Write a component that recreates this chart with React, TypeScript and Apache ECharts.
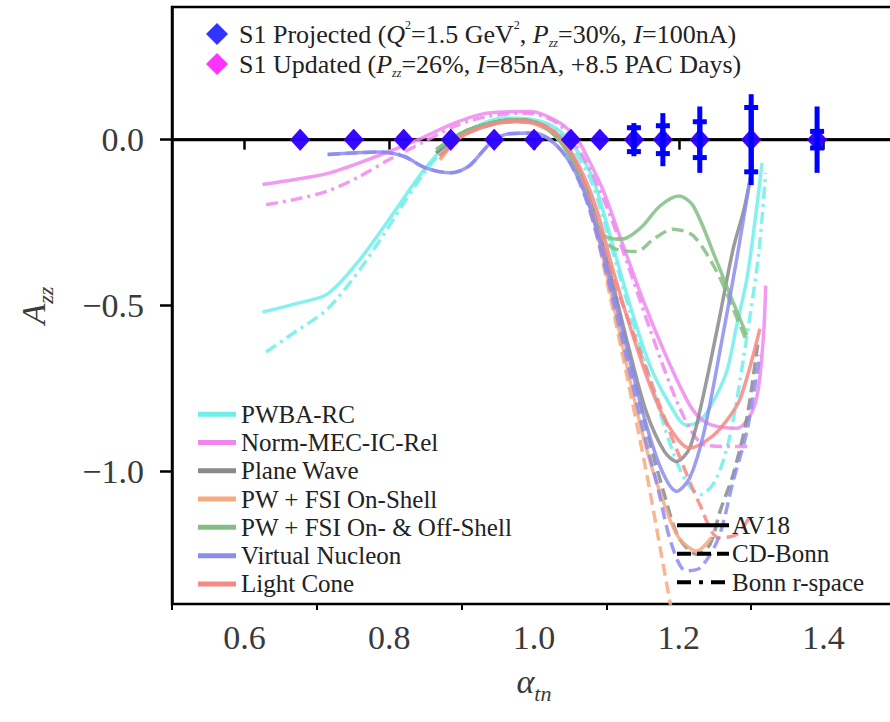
import React, { useEffect, useRef } from "react";
import * as echarts from "echarts";

const FONT = "'Liberation Serif', 'Times New Roman', serif";

// ---------- data ----------
const xTickLabels = [0.6, 0.8, 1.0, 1.2, 1.4];
const xMinorTicks = [0.5, 0.7, 0.9, 1.1, 1.3, 1.5];
const yTickLabels = [-1.0, -0.5, 0.0];
const zeroLineX = [0.5, 1.5];

const dataX = [0.677, 0.751, 0.82, 0.885, 0.945, 1.0, 1.051, 1.091, 1.138, 1.178, 1.229, 1.3, 1.391];
const projectedY = [0, 0, 0, 0, 0, 0, 0, 0, 0, 0, 0, 0, 0];
const updatedY = [0, 0, 0, 0, 0, 0, 0, 0, 0, 0, 0, 0, 0];
const projectedErr = [0, 0, 0, 0, 0, 0, 0, 0, 0.05, 0.08, 0.1, 0.137, 0.1];
const updatedErr = [0, 0, 0, 0, 0, 0, 0, 0, 0.036, 0.042, 0.054, 0.097, 0.025];

type P = [number, number];
// PWBA-RC
const pwbaAV18: P[] = [[0.625,-0.52],[0.67,-0.495],[0.715,-0.465],[0.76,-0.36],[0.8,-0.24],[0.845,-0.1],[0.88,-0.015],[0.92,0.04],[0.96,0.065],[1.0,0.06],[1.03,0.035],[1.055,-0.02],[1.08,-0.11],[1.1,-0.25],[1.13,-0.48],[1.16,-0.68],[1.188,-0.8],[1.21,-0.86],[1.228,-0.85],[1.245,-0.8],[1.266,-0.7],[1.28,-0.56],[1.294,-0.42],[1.305,-0.25],[1.315,-0.07]];
const pwbaBonnR: P[] = [[0.63,-0.64],[0.67,-0.58],[0.715,-0.51],[0.76,-0.39],[0.8,-0.26],[0.845,-0.11],[0.88,-0.02],[0.92,0.035],[0.96,0.06],[1.0,0.055],[1.03,0.03],[1.055,-0.03],[1.08,-0.13],[1.1,-0.27],[1.13,-0.5],[1.16,-0.72],[1.19,-0.93],[1.21,-1.03],[1.23,-1.07],[1.25,-1.03],[1.27,-0.9],[1.29,-0.65],[1.31,-0.35],[1.32,-0.1]];
// Norm-MEC-IC-Rel
const mecAV18: P[] = [[0.625,-0.135],[0.67,-0.12],[0.718,-0.1],[0.783,-0.05],[0.84,0.0],[0.89,0.05],[0.935,0.08],[0.995,0.085],[1.036,0.05],[1.06,0.0],[1.073,-0.05],[1.095,-0.15],[1.12,-0.3],[1.15,-0.48],[1.18,-0.64],[1.21,-0.78],[1.225,-0.83],[1.245,-0.86],[1.28,-0.87],[1.305,-0.8],[1.316,-0.62],[1.32,-0.44]];
const mecBonnR: P[] = [[0.63,-0.196],[0.67,-0.18],[0.715,-0.155],[0.76,-0.11],[0.8,-0.06],[0.845,-0.01],[0.89,0.04],[0.935,0.07],[0.99,0.08],[1.035,0.045],[1.07,-0.06],[1.1,-0.2],[1.13,-0.38],[1.16,-0.57],[1.19,-0.75],[1.215,-0.87],[1.235,-0.92],[1.27,-0.925],[1.3,-0.925]];
// Plane Wave
const pwAV18: P[] = [[0.865,-0.04],[0.9,0.02],[0.94,0.05],[0.975,0.06],[1.005,0.05],[1.03,0.015],[1.055,-0.06],[1.08,-0.2],[1.105,-0.4],[1.13,-0.62],[1.155,-0.82],[1.18,-0.94],[1.197,-0.97],[1.215,-0.93],[1.233,-0.78],[1.255,-0.55],[1.275,-0.33],[1.29,-0.21],[1.302,-0.08]];
const pwCDBonn: P[] = [[0.865,-0.04],[0.9,0.02],[0.94,0.05],[0.975,0.06],[1.005,0.05],[1.03,0.015],[1.055,-0.06],[1.08,-0.2],[1.105,-0.41],[1.13,-0.64],[1.155,-0.87],[1.18,-1.07],[1.2,-1.2],[1.225,-1.25],[1.243,-1.22],[1.257,-1.12],[1.275,-1.01],[1.294,-0.84],[1.31,-0.6]];
// PW + FSI On-Shell
const fsiOnAV18: P[] = [[0.87,-0.06],[0.9,0.01],[0.94,0.045],[0.975,0.055],[1.005,0.045],[1.03,0.01],[1.055,-0.07],[1.08,-0.22],[1.105,-0.45],[1.13,-0.7],[1.155,-0.93],[1.18,-1.1],[1.2,-1.2],[1.225,-1.24],[1.245,-1.2]];
const fsiOnCDBonn: P[] = [[0.87,-0.06],[0.9,0.01],[0.94,0.045],[0.975,0.055],[1.005,0.045],[1.03,0.01],[1.055,-0.07],[1.08,-0.23],[1.105,-0.47],[1.13,-0.73],[1.155,-1.0],[1.175,-1.24],[1.19,-1.42]];
// PW + FSI On- & Off-Shell
const fsiOffAV18: P[] = [[0.865,-0.03],[0.9,0.02],[0.94,0.05],[0.975,0.06],[1.005,0.05],[1.03,0.01],[1.055,-0.07],[1.075,-0.18],[1.091,-0.28],[1.115,-0.3],[1.128,-0.296],[1.15,-0.26],[1.174,-0.2],[1.2,-0.17],[1.22,-0.2],[1.253,-0.37],[1.275,-0.49],[1.294,-0.59]];
const fsiOffCDBonn: P[] = [[0.865,-0.03],[0.9,0.02],[0.94,0.05],[0.975,0.06],[1.005,0.05],[1.03,0.01],[1.055,-0.07],[1.075,-0.19],[1.105,-0.32],[1.142,-0.337],[1.165,-0.3],[1.192,-0.27],[1.22,-0.29],[1.253,-0.4],[1.275,-0.51],[1.294,-0.61]];
// Virtual Nucleon
const vnAV18: P[] = [[0.715,-0.045],[0.75,-0.04],[0.785,-0.037],[0.82,-0.05],[0.85,-0.085],[0.885,-0.1],[0.91,-0.08],[0.94,-0.01],[0.965,0.018],[1.0,0.02],[1.025,-0.005],[1.05,-0.07],[1.075,-0.19],[1.1,-0.38],[1.125,-0.6],[1.15,-0.82],[1.175,-0.99],[1.197,-1.06],[1.215,-1.02],[1.235,-0.88],[1.26,-0.6],[1.28,-0.36],[1.3,-0.1]];
const vnCDBonn: P[] = [[0.715,-0.045],[0.75,-0.04],[0.785,-0.037],[0.82,-0.05],[0.85,-0.085],[0.885,-0.1],[0.91,-0.08],[0.94,-0.01],[0.965,0.018],[1.0,0.02],[1.025,-0.005],[1.05,-0.07],[1.075,-0.2],[1.1,-0.4],[1.125,-0.63],[1.15,-0.87],[1.17,-1.04],[1.19,-1.22],[1.21,-1.3],[1.23,-1.29],[1.255,-1.2],[1.275,-1.03],[1.294,-0.88],[1.312,-0.65]];
// Light Cone
const lcAV18: P[] = [[0.87,-0.05],[0.9,0.01],[0.94,0.045],[0.975,0.055],[1.01,0.045],[1.035,0.01],[1.06,-0.07],[1.085,-0.2],[1.11,-0.4],[1.135,-0.58],[1.16,-0.74],[1.185,-0.86],[1.215,-0.93],[1.243,-0.9],[1.265,-0.85],[1.285,-0.78],[1.312,-0.57]];
const lcCDBonn: P[] = [[0.87,-0.05],[0.9,0.01],[0.94,0.045],[0.975,0.055],[1.01,0.045],[1.035,0.01],[1.06,-0.08],[1.085,-0.24],[1.11,-0.42],[1.14,-0.6],[1.17,-0.78],[1.2,-0.95],[1.229,-1.1],[1.255,-1.2],[1.28,-1.19],[1.3,-1.13]];

const modelNames = ["PWBA-RC", "Norm-MEC-IC-Rel", "Plane Wave", "PW + FSI On-Shell", "PW + FSI On- & Off-Shell", "Virtual Nucleon", "Light Cone"];
const modelColors = ["#70EEEA", "#EE88EE", "#8A8A8A", "#F5AA80", "#84BE84", "#8C8CEE", "#F28A86"];
const potentialNames = ["AV18", "CD-Bonn", "Bonn r-space"];

const DASH = [12, 6];
const DASHDOT = [12, 5, 3, 5];

export default function App() {
  const ref = useRef<HTMLDivElement>(null);
  useEffect(() => {
    if (!ref.current) return;
    const chart = echarts.init(ref.current, null, { renderer: "svg" });

    const curves: { name: string; model: number; data: P[]; dash: any }[] = [
      { name: "PWBA-RC", model: 0, data: pwbaAV18, dash: "solid" },
      { name: "PWBA-RC (Bonn r-space)", model: 0, data: pwbaBonnR, dash: DASHDOT },
      { name: "Norm-MEC-IC-Rel", model: 1, data: mecAV18, dash: "solid" },
      { name: "Norm-MEC-IC-Rel (Bonn r-space)", model: 1, data: mecBonnR, dash: DASHDOT },
      { name: "Plane Wave (CD-Bonn)", model: 2, data: pwCDBonn, dash: DASH },
      { name: "Plane Wave", model: 2, data: pwAV18, dash: "solid" },
      { name: "PW + FSI On-Shell (CD-Bonn)", model: 3, data: fsiOnCDBonn, dash: DASH },
      { name: "PW + FSI On-Shell", model: 3, data: fsiOnAV18, dash: "solid" },
      { name: "PW + FSI On- & Off-Shell", model: 4, data: fsiOffAV18, dash: "solid" },
      { name: "PW + FSI On- & Off-Shell (CD-Bonn)", model: 4, data: fsiOffCDBonn, dash: DASH },
      { name: "Light Cone (CD-Bonn)", model: 6, data: lcCDBonn, dash: DASH },
      { name: "Light Cone", model: 6, data: lcAV18, dash: "solid" },
      { name: "Virtual Nucleon (CD-Bonn)", model: 5, data: vnCDBonn, dash: DASH },
      { name: "Virtual Nucleon", model: 5, data: vnAV18, dash: "solid" },
    ];

    const curveSeries = curves.map((c) => ({
      name: c.name,
      type: "line",
      data: c.data,
      smooth: 0.3,
      symbol: "none",
      clip: true,
      z: 3,
      color: modelColors[c.model],
      lineStyle: { color: modelColors[c.model], width: 3.5, type: c.dash, opacity: 0.85 },
    }));

    const errRender = (cap: number) => (params: any, api: any) => {
      const x = api.value(0);
      const y = api.value(1);
      const e = api.value(2);
      const t = api.coord([x, y + e]);
      const b = api.coord([x, y - e]);
      const style = { stroke: "#0000FF", lineWidth: 5 };
      const children: any[] = [
        { type: "line", shape: { x1: t[0], y1: t[1], x2: b[0], y2: b[1] }, style },
      ];
      if (cap > 0) {
        children.push({ type: "line", shape: { x1: t[0] - cap, y1: t[1], x2: t[0] + cap, y2: t[1] }, style });
        children.push({ type: "line", shape: { x1: b[0] - cap, y1: b[1], x2: b[0] + cap, y2: b[1] }, style });
      }
      return { type: "group", children };
    };

    const richBase = {
      i: { fontFamily: FONT, fontSize: 26, fontStyle: "italic", color: "#222" },
      sup: { fontFamily: FONT, fontSize: 12, verticalAlign: "top", color: "#222" },
      sub: { fontFamily: FONT, fontSize: 12, fontStyle: "italic", verticalAlign: "bottom", color: "#222" },
    };

    const option: any = {
      animation: false,
      backgroundColor: "#ffffff",
      grid: {
        left: 172, right: 4, top: 7, bottom: 118,
        show: true, borderColor: "#000", borderWidth: 2.5, backgroundColor: "transparent",
      },
      xAxis: [
        {
          type: "value", min: 0.5, max: 1.5,
          splitLine: { show: false },
          axisLine: { show: true, lineStyle: { color: "#000", width: 2.5 } },
          axisTick: { show: true, customValues: xTickLabels, length: 10, lineStyle: { color: "#000", width: 2.5 } },
          axisLabel: {
            customValues: xTickLabels, margin: 16,
            fontFamily: FONT, fontSize: 34, color: "#3a3a3a",
            formatter: (v: number) => v.toFixed(1),
          },
          name: "{a|α}{s|tn}",
          nameLocation: "middle",
          nameGap: 60,
          nameTextStyle: {
            rich: {
              a: { fontFamily: FONT, fontSize: 34, fontStyle: "italic", color: "#3a3a3a", verticalAlign: "top", lineHeight: 40 },
              s: { fontFamily: FONT, fontSize: 22, fontStyle: "italic", color: "#3a3a3a", verticalAlign: "bottom", lineHeight: 40 },
            },
          },
        },
        {
          type: "value", min: 0.5, max: 1.5, position: "bottom",
          splitLine: { show: false },
          axisLine: { show: false },
          axisTick: { show: true, customValues: xMinorTicks, length: 6, lineStyle: { color: "#000", width: 2 } },
          axisLabel: { show: false },
        },
      ],
      yAxis: {
        type: "value", min: -1.4, max: 0.4,
        splitLine: { show: false },
        axisLine: { show: true, lineStyle: { color: "#000", width: 2.5 } },
        axisTick: { show: true, customValues: yTickLabels, length: 12, lineStyle: { color: "#000", width: 2.5 } },
        axisLabel: {
          customValues: yTickLabels, margin: 28,
          fontFamily: FONT, fontSize: 34, color: "#3a3a3a",
          formatter: (v: number) => (v < 0 ? "\u2212" + Math.abs(v).toFixed(1) : v.toFixed(1)),
        },
        name: "{a|A}{s|zz}",
        nameLocation: "middle",
        nameGap: 116,
        nameRotate: 90,
        nameTextStyle: {
          rich: {
            a: { fontFamily: FONT, fontSize: 34, fontStyle: "italic", color: "#3a3a3a", verticalAlign: "top", lineHeight: 40 },
            s: { fontFamily: FONT, fontSize: 22, fontStyle: "italic", color: "#3a3a3a", verticalAlign: "bottom", lineHeight: 40 },
          },
        },
      },
      legend: [
        {
          data: [
            { name: "S1 Projected", icon: "diamond" },
            { name: "S1 Updated", icon: "diamond" },
          ],
          orient: "vertical", left: 201, top: 14, itemWidth: 22, itemHeight: 22, itemGap: 0,
          selectedMode: false,
          formatter: (name: string) =>
            name === "S1 Projected"
              ? "S1 Projected ({i|Q}{sup|2}=1.5 GeV{sup|2}, {i|P}{sub|zz}=30%, {i|I}=100nA)"
              : "S1 Updated ({i|P}{sub|zz}=26%, {i|I}=85nA, +8.5 PAC Days)",
          textStyle: { fontFamily: FONT, fontSize: 26, color: "#222", lineHeight: 30, padding: [0, 0, 0, 6], rich: richBase },
        },
        {
          data: modelNames.map((n) => ({ name: n, icon: "rect" })),
          orient: "vertical", left: 193, top: 395, itemWidth: 38, itemHeight: 5, itemGap: 0,
          selectedMode: false,
          textStyle: { fontFamily: FONT, fontSize: 25, color: "#222", lineHeight: 28.3, padding: [0, 0, 0, 0] },
        },
        {
          data: potentialNames,
          orient: "vertical", left: 670, top: 506, itemWidth: 52, itemHeight: 14, itemGap: 0,
          selectedMode: false,
          itemStyle: { color: "rgba(0,0,0,0)", borderWidth: 0, opacity: 0 },
          lineStyle: { width: 4 },
          textStyle: { fontFamily: FONT, fontSize: 25, color: "#222", lineHeight: 28.5, padding: [0, 0, 0, -2] },
        },
      ],
      series: [
        {
          name: "zero",
          type: "line",
          data: zeroLineX.map((x) => [x, 0]),
          symbol: "none",
          lineStyle: { color: "#000", width: 3 },
          z: 2,
          silent: true,
        },
        ...curveSeries,
        {
          name: "S1 Updated",
          type: "scatter",
          data: dataX.map((x, i) => [x, updatedY[i]]),
          symbol: "diamond",
          symbolSize: [20, 22],
          itemStyle: { color: "#FF00FF" },
          color: "#FF00FF",
          z: 4,
        },
        {
          name: "errProjected",
          type: "custom",
          renderItem: errRender(0),
          data: dataX.map((x, i) => [x, projectedY[i], projectedErr[i]]).filter((d) => d[2] > 0),
          encode: { x: 0, y: 1 },
          z: 5,
        },
        {
          name: "errUpdated",
          type: "custom",
          renderItem: errRender(7),
          data: dataX.map((x, i) => [x, updatedY[i], updatedErr[i]]).filter((d) => d[2] > 0),
          encode: { x: 0, y: 1 },
          z: 5,
        },
        {
          name: "S1 Projected",
          type: "scatter",
          data: dataX.map((x, i) => [x, projectedY[i]]),
          symbol: "diamond",
          symbolSize: [20, 22],
          itemStyle: { color: "#0000FF" },
          color: "#0000FF",
          z: 6,
        },
        { name: "AV18", type: "line", data: [], symbol: "none", color: "#000", lineStyle: { color: "#000", width: 4, type: "solid" } },
        { name: "CD-Bonn", type: "line", data: [], symbol: "none", color: "#000", lineStyle: { color: "#000", width: 4, type: [14, 6] } },
        { name: "Bonn r-space", type: "line", data: [], symbol: "none", color: "#000", lineStyle: { color: "#000", width: 4, type: [14, 8, 4, 8] } },
      ],
    };

    chart.setOption(option);
    return () => chart.dispose();
  }, []);

  return (
    <div style={{ position: "fixed", left: 0, top: 0, width: 890, height: 722, overflow: "hidden", background: "#fff" }}>
      <div ref={ref} style={{ width: 900, height: 722 }} />
    </div>
  );
}
